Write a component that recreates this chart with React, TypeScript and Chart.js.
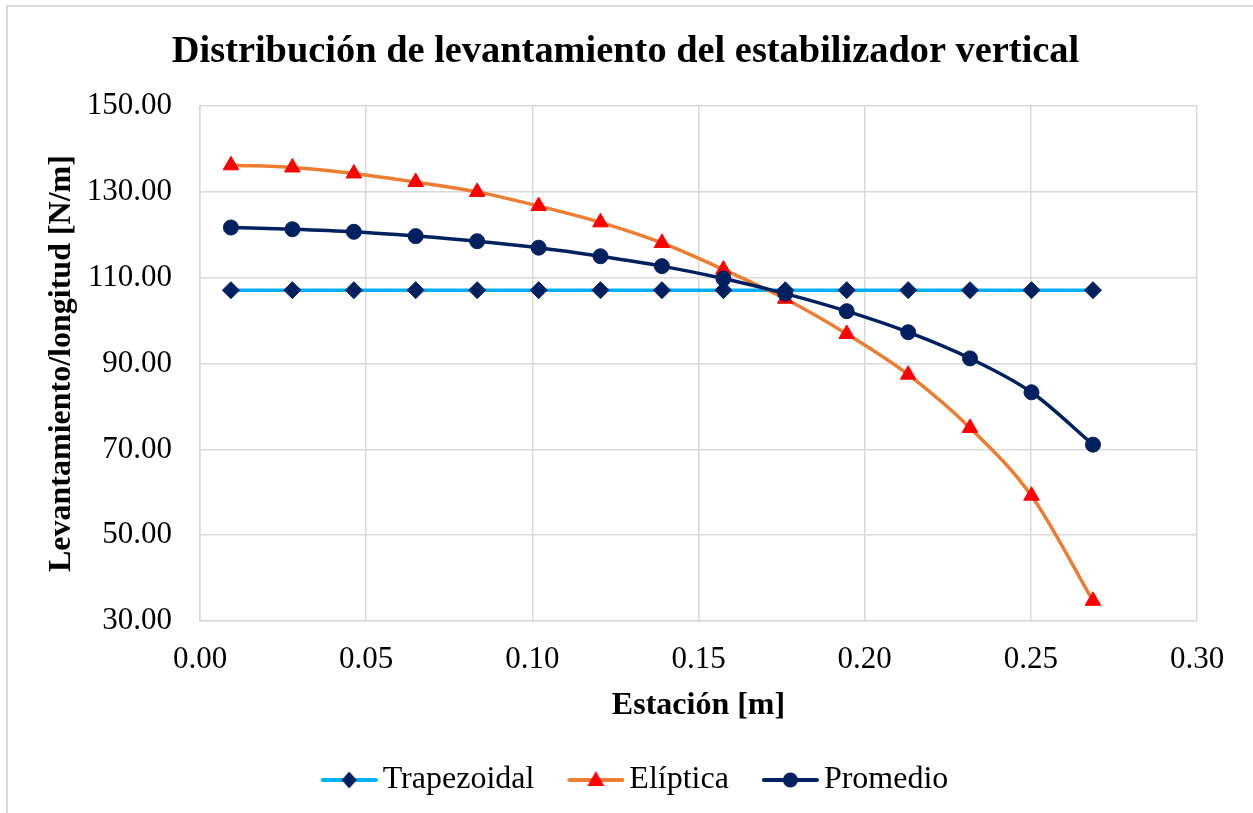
import React, { useEffect, useRef } from 'react';
import { Chart, registerables } from 'chart.js';

Chart.register(...registerables);

const FONT = "'Liberation Serif', 'Times New Roman', serif";

const titleText = 'Distribución de levantamiento del estabilizador vertical';
const xTitle = 'Estación [m]';
const yTitle = 'Levantamiento/longitud [N/m]';

const seriesNames = ['Trapezoidal', 'Elíptica', 'Promedio'];

const stations = [0.0093, 0.0278, 0.0463, 0.0649, 0.0834, 0.1019, 0.1205, 0.139, 0.1575, 0.1761, 0.1946, 0.2131, 0.2317, 0.2502, 0.2687];
const trapezoidal = [107.1, 107.1, 107.1, 107.1, 107.1, 107.1, 107.1, 107.1, 107.1, 107.1, 107.1, 107.1, 107.1, 107.1, 107.1];
const eliptica = [136.2, 135.7, 134.3, 132.3, 130.0, 126.7, 122.9, 118.1, 111.9, 105.1, 96.9, 87.4, 75.0, 59.2, 34.7];
const promedio = [121.7, 121.3, 120.7, 119.7, 118.5, 117.0, 115.0, 112.7, 109.8, 106.3, 102.2, 97.3, 91.2, 83.3, 71.1];

const xMin = 0;
const xMax = 0.3;
const xStep = 0.05;
const yMin = 30;
const yMax = 150;
const yStep = 20;

const LIGHT_BLUE = '#00B0F0';
const NAVY = '#002060';
const ORANGE = '#ED7D31';
const RED = '#FF0000';
const GRID = '#d9d9d9';

function makeIcon(lineColor: string, markerColor: string, shape: string) {
  const c = document.createElement('canvas');
  c.width = 86;
  c.height = 22;
  const ctx = c.getContext('2d')!;
  ctx.strokeStyle = lineColor;
  ctx.lineWidth = 4;
  ctx.lineCap = 'round';
  ctx.beginPath();
  ctx.moveTo(31, 11);
  ctx.lineTo(84, 11);
  ctx.stroke();
  const cx = 57.5;
  const cy = 11;
  ctx.fillStyle = markerColor;
  ctx.beginPath();
  if (shape === 'diamond') {
    ctx.moveTo(cx - 7.5, cy);
    ctx.lineTo(cx, cy - 8.5);
    ctx.lineTo(cx + 7.5, cy);
    ctx.lineTo(cx, cy + 8.5);
    ctx.closePath();
  } else if (shape === 'triangle') {
    ctx.moveTo(cx, cy - 9);
    ctx.lineTo(cx + 8.5, cy + 6);
    ctx.lineTo(cx - 8.5, cy + 6);
    ctx.closePath();
  } else {
    ctx.arc(cx, cy, 7.5, 0, Math.PI * 2);
  }
  ctx.fill();
  return c;
}

export default function App() {
  const ref = useRef<HTMLCanvasElement>(null);

  useEffect(() => {
    if (!ref.current) return;
    const icons = [
      makeIcon(LIGHT_BLUE, NAVY, 'diamond'),
      makeIcon(ORANGE, RED, 'triangle'),
      makeIcon(NAVY, NAVY, 'circle'),
    ];
    const toXY = (arr: number[]) => arr.map((v, i) => ({ x: stations[i], y: v }));
    const chart = new Chart(ref.current, {
      type: 'line',
      data: {
        datasets: [
          {
            label: seriesNames[0],
            data: toXY(trapezoidal),
            borderColor: LIGHT_BLUE,
            borderWidth: 3.5,
            pointStyle: 'rectRot',
            pointRadius: 8.5,
            pointBackgroundColor: NAVY,
            pointBorderColor: NAVY,
            pointBorderWidth: 1,
            tension: 0,
            order: 3,
          },
          {
            label: seriesNames[1],
            data: toXY(eliptica),
            borderColor: ORANGE,
            borderWidth: 3.5,
            pointStyle: 'triangle',
            pointRadius: 9,
            pointBackgroundColor: RED,
            pointBorderColor: RED,
            pointBorderWidth: 1,
            cubicInterpolationMode: 'monotone',
            order: 2,
          },
          {
            label: seriesNames[2],
            data: toXY(promedio),
            borderColor: NAVY,
            borderWidth: 3.5,
            pointStyle: 'circle',
            pointRadius: 7.5,
            pointBackgroundColor: NAVY,
            pointBorderColor: NAVY,
            pointBorderWidth: 1,
            cubicInterpolationMode: 'monotone',
            order: 1,
          },
        ],
      },
      options: {
        responsive: false,
        animation: false,
        devicePixelRatio: 1,
        layout: { padding: { left: 54, right: 56, top: 0, bottom: 7 } },
        plugins: {
          title: {
            display: true,
            text: titleText,
            color: '#000',
            font: { family: FONT, size: 38.4, weight: 'bold' },
            padding: { top: 29.5, bottom: 30.5 },
          },
          legend: {
            position: 'bottom',
            labels: {
              usePointStyle: true,
              pointStyleWidth: 64,
              padding: 15,
              color: '#000',
              font: { family: FONT, size: 32 },
              generateLabels: (ch: any) =>
                ch.data.datasets.map((ds: any, i: number) => ({
                  text: ds.label,
                  pointStyle: icons[i],
                  fillStyle: 'rgba(0,0,0,0)',
                  strokeStyle: 'rgba(0,0,0,0)',
                  lineWidth: 0,
                  hidden: false,
                  datasetIndex: i,
                  fontColor: '#000',
                })),
            },
          },
          tooltip: { enabled: false },
        },
        scales: {
          x: {
            type: 'linear',
            min: xMin,
            max: xMax,
            ticks: {
              stepSize: xStep,
              color: '#000',
              font: { family: FONT, size: 31 },
              padding: 20.4,
              callback: (v: any) => Number(v).toFixed(2),
            },
            grid: { color: GRID, lineWidth: 1.5, drawTicks: false },
            border: { color: GRID, width: 1.5 },
            title: {
              display: true,
              text: xTitle,
              color: '#000',
              font: { family: FONT, size: 32, weight: 'bold' },
              padding: { top: 0, bottom: 23.8 },
            },
            afterFit: (s: any) => {
              s.height = 128;
            },
          },
          y: {
            type: 'linear',
            min: yMin,
            max: yMax,
            ticks: {
              stepSize: yStep,
              color: '#000',
              font: { family: FONT, size: 31 },
              padding: 28,
              callback: (v: any) => Number(v).toFixed(2),
            },
            grid: { color: GRID, lineWidth: 1.5, drawTicks: false },
            border: { color: GRID, width: 1.5 },
            title: {
              display: true,
              text: yTitle,
              color: '#000',
              font: { family: FONT, size: 32, weight: 'bold' },
              padding: { top: -11, bottom: 0 },
            },
            afterFit: (s: any) => {
              s.width = 146;
            },
          },
        },
      },
    } as any);
    return () => chart.destroy();
  }, []);

  return (
    <div style={{ position: 'fixed', left: 0, top: 0, width: 1253, height: 813, overflow: 'hidden', background: '#fff' }}>
      <div style={{ position: 'absolute', left: 6, top: 5, width: 1400, height: 1000, border: '2px solid #d9d9d9' }} />
      <canvas ref={ref} width={1253} height={813} style={{ position: 'absolute', left: 0, top: 0, width: 1253, height: 813 }} />
    </div>
  );
}
